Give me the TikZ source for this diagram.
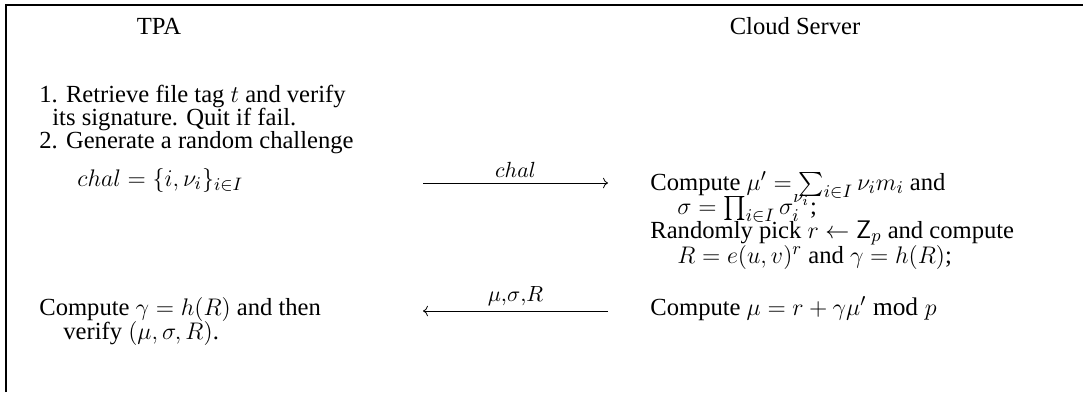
\documentclass[tikz,border=0pt]{standalone}
\usepackage{fontspec}
\setmainfont{Liberation Serif}
\usepackage{amsmath}
\DeclareMathSizes{12.3}{12.7}{9}{7}
\usepackage{tikz}
\usetikzlibrary{arrows.meta}

\begin{document}
\begin{tikzpicture}[font=\fontsize{12.3}{14.8}\selectfont, x=0.5pt, y=-0.5pt]
            \tikzset{txt/.style={anchor=base west, inner sep=0pt},
                     head/.style={anchor=base, inner sep=0pt},
                     msg/.style={-To},
                     lbl/.style={midway, above, inner sep=2.5pt, font=\fontsize{10.5}{12}\selectfont}}
            \useasboundingbox (0,0) rectangle (1083,392);
            \draw[line width=1pt] (6,392) -- (6,5) -- (1083,5);
            \node[head] (tpa) at (159,34) {TPA};
            \node[head] (cloud) at (795,34) {Cloud Server};
            \node[txt] (retrieve) at (39,102) {1. Retrieve file tag $t$ and verify};
            \node[txt] (quit) at (52,125) {its signature. Quit if fail.};
            \node[txt] (generate) at (39,148) {2. Generate a random challenge};
            \node[txt] (chaleq) at (77,186) {$chal = \{i,\nu_i\}_{i\in I}$};
            \node[txt] (mucomp) at (650,190) {Compute $\mu' = \sum_{i\in I}\nu_i m_i$ and};
            \node[txt] (sigcomp) at (677,214) {$\sigma = \prod_{i\in I}\sigma_i^{\nu_i}$;};
            \node[txt] (pick) at (650,238) {Randomly pick $r \leftarrow \mathsf{Z}_p$ and compute};
            \node[txt] (rcomp) at (677,263) {$R = e(u,v)^r$ and $\gamma = h(R)$;};
            \node[txt] (resp) at (650,315) {Compute $\mu = r + \gamma\mu' \bmod p$};
            \node[txt] (gamcomp) at (39,315) {Compute $\gamma = h(R)$ and then};
            \node[txt] (verify) at (63,339) {verify $(\mu,\sigma,R)$.};
            \coordinate (chalL) at (423,183);
            \coordinate (chalR) at (608,183);
            \coordinate (respL) at (423,311);
            \coordinate (respR) at (608,311);
            \draw[msg] (chalL) -- node[lbl] {$chal$} (chalR);
            \draw[msg] (respR) -- node[lbl] {$\mu{,}\sigma{,}R$} (respL);
        \end{tikzpicture}
\end{document}
